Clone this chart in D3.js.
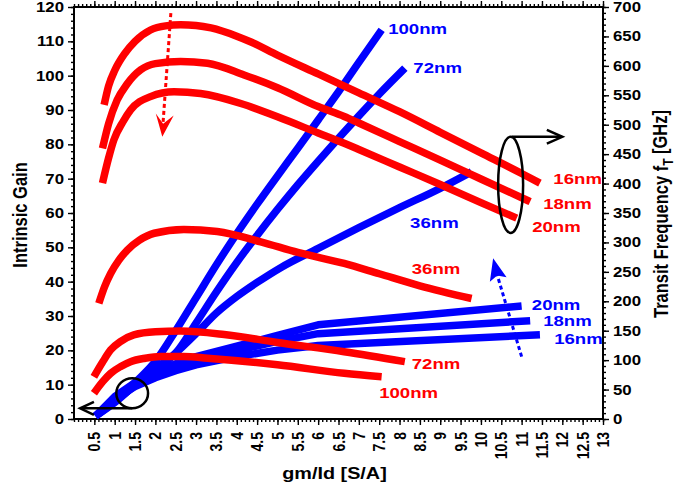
<!DOCTYPE html>
<html><head><meta charset="utf-8">
<script src="https://cdn.jsdelivr.net/npm/d3@7"></script>
<style>
html,body{margin:0;padding:0;background:#fff;}
text{font-family:"Liberation Sans",Arial,Helvetica,sans-serif;font-weight:bold;}
</style></head>
<body>
<svg id="chart" width="699" height="493"></svg>
<script>
// ---------- DATA ----------
// Intrinsic gain (left axis) vs gm/Id
const gain16 = [[0.74,91.5],[0.85,97],[1.0,101.5],[1.25,106.5],[1.5,110],[1.88,113.3],[2.25,114.5],[2.62,114.8],[3.0,114.6],[3.37,113.9],[4.0,111.5],[4.35,109.8],[5,106],[6,100.5],[7,95],[8,89.5],[9,83.5],[10,77.5],[11,71.5],[11.45,68.7]];
const gain18 = [[0.70,78.8],[0.85,86],[1.06,92.9],[1.3,97.5],[1.64,101.7],[2.0,103.5],[2.62,104.1],[3.28,103.6],[4.18,100.2],[5,96.5],[6,91],[6.64,88.1],[7,86.2],[8,80.8],[9,75.4],[10,69.9],[11.21,63.3]];
const gain20 = [[0.70,68.7],[0.85,76],[0.98,81.3],[1.2,86.5],[1.39,90],[1.88,93.9],[2.46,95.3],[3.11,94.8],[4.10,91.9],[5,88],[6,83.3],[6.64,80.3],[7,78.5],[8,73.4],[9,68.3],[10,63],[10.88,58.5]];
const gain36 = [[0.61,33.7],[0.75,38.5],[0.90,42.4],[1.1,46.2],[1.31,49.2],[1.6,52],[1.97,54.1],[2.7,55.2],[3.52,54.6],[4.59,51.6],[5.5,48.5],[6.64,45.3],[7.5,42.3],[8.5,38.8],[9.77,35.1]];
const gain72 = [[0.49,12.3],[0.7,16.5],[0.90,20.1],[1.15,22.6],[1.47,24.5],[2.0,25.4],[2.62,25.6],[3.69,24.6],[5,22.3],[6.64,19.6],[8.13,16.7]];
const gain100 = [[0.49,7.5],[0.7,10.8],[0.90,13.3],[1.15,15.3],[1.39,16.7],[1.75,17.7],[2.13,18.2],[2.7,18.2],[3.28,17.7],[5,15.8],[6.64,13.3],[7.56,12.3]];
// Transit frequency fT [GHz] (right axis) vs gm/Id
const ft100 = [[0.53,5],[1.0,30],[1.5,62],[2.0,98],[2.5,150],[3.0,206],[3.5,262],[4.0,315],[4.5,365],[5.0,413],[5.5,460],[6.0,508],[6.5,556],[7.0,606],[7.56,661]];
const ft72 = [[0.53,5],[1.0,28],[1.5,58],[2.0,86],[2.5,112],[3.0,163],[3.5,216],[4.0,266],[4.5,312],[5.0,356],[5.5,398],[6.0,438],[6.5,477],[7.0,515],[7.5,552],[8.13,596]];
const ft36 = [[0.53,5],[1.0,30],[1.5,57],[2.0,84],[2.5,112],[3.0,145],[3.5,180],[4.0,208],[4.5,232],[5.1,258],[6.0,290],[7.0,325],[8.0,359],[9.0,392],[9.77,420]];
const ft20 = [[0.53,5],[1.0,38],[1.5,62],[2.0,80],[2.5,94],[3.0,106],[4.0,124],[5.0,142],[6.0,160],[11.0,192]];
const ft18 = [[0.53,5],[1.0,36],[1.5,58],[2.0,75],[2.5,88],[3.0,99],[4.0,116],[5.0,132],[6.0,145],[11.21,167]];
const ft16 = [[0.53,5],[1.0,34],[1.5,55],[2.0,70],[2.5,82],[3.0,92],[4.0,106],[5.0,117],[6.0,125],[11.45,143]];

const gainSeries = [["16nm",gain16],["18nm",gain18],["20nm",gain20],["36nm",gain36],["72nm",gain72],["100nm",gain100]];
const ftSmooth = [["100nm",ft100],["72nm",ft72],["36nm",ft36]];
const ftKinked = [["20nm",ft20],["18nm",ft18],["16nm",ft16]];

// tick values
const xTicks = d3.range(0.5, 13.001, 0.5);
const xMinor = d3.range(0, 13.001, 0.1);
const yLeftTicks = d3.range(0, 120.1, 10);
const yLeftMinor = d3.range(0, 120.1, 2);
const yRightTicks = d3.range(0, 700.1, 50);
const yRightMinor = d3.range(0, 700.1, 10);

// label placement (data units): [text, x, value]
const gainLabels = [["16nm",11.78,70.1],["18nm",11.53,62.8],["20nm",11.26,56.2],["36nm",8.3,43.9],["72nm",8.3,16.2],["100nm",7.5,7.7]];
const ftLabels = [["100nm",7.72,664],["72nm",8.34,598],["36nm",8.26,334],["20nm",11.25,194],["18nm",11.53,168],["16nm",11.8,137]];

// ---------- DRAW ----------
const svg = d3.select("#chart");
svg.append("rect").attr("width",699).attr("height",493).attr("fill","#fff");
const L=74, R=603, T=7, B=419;
const SX = 1.2; // horizontal text stretch
const x = d3.scaleLinear().domain([0,13]).range([L,R]);
const yL = d3.scaleLinear().domain([0,120]).range([B,T]);
const yR = d3.scaleLinear().domain([0,700]).range([B,T]);

function axisG(axis, tx, ty){
  const g = svg.append("g").attr("transform",`translate(${tx},${ty})`).call(axis);
  g.select(".domain").remove();
  g.selectAll("line").attr("stroke","#000").attr("stroke-width",1.4);
  g.selectAll("text").remove();
  return g;
}
axisG(d3.axisBottom(x).tickValues(xMinor).tickSize(3), 0, B);
axisG(d3.axisBottom(x).tickValues(xTicks).tickSize(6), 0, B);
axisG(d3.axisTop(x).tickValues(xMinor).tickSize(3), 0, T);
axisG(d3.axisTop(x).tickValues(xTicks).tickSize(6), 0, T);
axisG(d3.axisLeft(yL).tickValues(yLeftMinor).tickSize(3), L, 0);
axisG(d3.axisLeft(yL).tickValues(yLeftTicks).tickSize(6), L, 0);
axisG(d3.axisRight(yR).tickValues(yRightMinor).tickSize(3), R, 0);
axisG(d3.axisRight(yR).tickValues(yRightTicks).tickSize(6), R, 0);

svg.append("rect").attr("x",L).attr("y",T).attr("width",R-L).attr("height",B-T)
  .attr("fill","none").attr("stroke","#000").attr("stroke-width",2);

// tick labels
const fmt = d => (d%1===0 ? String(d) : d.toFixed(1));
svg.append("g").selectAll("text").data(yLeftTicks).join("text")
  .attr("transform", d=>`translate(${L-10},${yL(d)}) scale(${SX},1)`)
  .attr("text-anchor","end").attr("dy","0.36em").attr("font-size",14).text(d=>d);
svg.append("g").selectAll("text").data(yRightTicks).join("text")
  .attr("transform", d=>`translate(${R+10},${yR(d)}) scale(${SX},1)`)
  .attr("text-anchor","start").attr("dy","0.36em").attr("font-size",14).text(d=>d);
svg.append("g").selectAll("text").data(xTicks).join("text")
  .attr("transform", d=>`translate(${x(d)},${B+13}) scale(${SX},1) rotate(-90)`)
  .attr("text-anchor","end").attr("dy","0.36em").attr("font-size",14).text(fmt);

// axis titles
svg.append("text").attr("transform",`translate(${(L+R)/2-4},473) scale(${SX},1)`)
  .attr("text-anchor","middle").attr("dy","0.36em").attr("font-size",16.5).text("gm/Id [S/A]");
svg.append("text").attr("transform",`translate(20,${(T+B)/2+2}) scale(${SX},1) rotate(-90)`)
  .attr("text-anchor","middle").attr("dy","0.36em").attr("font-size",16.5).text("Intrinsic Gain");
const rt = svg.append("text").attr("transform",`translate(661,${(T+B)/2+1}) scale(${SX},1) rotate(-90)`)
  .attr("text-anchor","middle").attr("dy","0.36em").attr("font-size",16.5);
rt.append("tspan").text("Transit Frequency f");
rt.append("tspan").attr("font-size",12).attr("dy","0.35em").text("T");
rt.append("tspan").attr("dy","-0.3em").text(" [GHz]");

// lines
const lineFtSmooth = d3.line().x(d=>x(d[0])).y(d=>yR(d[1])).curve(d3.curveMonotoneX);
const lineFtKink = d3.line().x(d=>x(d[0])).y(d=>yR(d[1])).curve(d3.curveLinear);
const lineGain = d3.line().x(d=>x(d[0])).y(d=>yL(d[1])).curve(d3.curveMonotoneX);
const blueG = svg.append("g").attr("fill","none").attr("stroke","#0000ff")
  .attr("stroke-width",7.5).attr("stroke-linejoin","round").attr("stroke-linecap","butt");
blueG.selectAll("path.s").data(ftSmooth).join("path").attr("class","s").attr("d", d=>lineFtSmooth(d[1]));
blueG.selectAll("path.k").data(ftKinked).join("path").attr("class","k").attr("d", d=>lineFtKink(d[1]));
svg.append("g").selectAll("path").data(gainSeries).join("path")
  .attr("d", d=>lineGain(d[1])).attr("fill","none").attr("stroke","#ff0000")
  .attr("stroke-width",7.5).attr("stroke-linejoin","round").attr("stroke-linecap","butt");

// series labels
svg.append("g").selectAll("text").data(ftLabels).join("text")
  .attr("transform", d=>`translate(${x(d[1])},${yR(d[2])}) scale(${SX},1)`)
  .attr("dy","0.36em").attr("font-size",15.5).attr("fill","#0000ff").text(d=>d[0]);
svg.append("g").selectAll("text").data(gainLabels).join("text")
  .attr("transform", d=>`translate(${x(d[1])},${yL(d[2])}) scale(${SX},1)`)
  .attr("dy","0.36em").attr("font-size",15.5).attr("fill","#ff0000").text(d=>d[0]);

// ---------- ANNOTATIONS (data units) ----------
const redArrowShaft = [[2.38,118.2],[2.19,86.5]];
const redArrowHead = [[2.01,89.0],[2.19,86.0],[2.45,88.4],[2.17,82.2]];
const blueArrowShaft = [[11.0,106],[10.39,247]];
const blueArrowHead = [[10.22,233],[10.40,244],[10.63,240.7],[10.30,273]];
const lineG = d3.line().x(d=>x(d[0])).y(d=>yL(d[1]));
const lineR = d3.line().x(d=>x(d[0])).y(d=>yR(d[1]));
svg.append("path").attr("d",lineG(redArrowShaft)).attr("stroke","#ff0000").attr("stroke-width",3)
  .attr("stroke-dasharray","4,3").attr("fill","none");
svg.append("path").attr("d",lineG(redArrowHead)+"Z").attr("fill","#ff0000");
svg.append("path").attr("d",lineR(blueArrowShaft)).attr("stroke","#0000ff").attr("stroke-width",3)
  .attr("stroke-dasharray","4,3").attr("fill","none");
svg.append("path").attr("d",lineR(blueArrowHead)+"Z").attr("fill","#0000ff");

// ellipse marking fT curves -> right axis
const ellR = {cx:10.73, cy:68.2, rx:0.307, ry:14.0};
svg.append("ellipse").attr("cx",x(ellR.cx)).attr("cy",yL(ellR.cy))
  .attr("rx",x(ellR.rx)-x(0)).attr("ry",yL(0)-yL(ellR.ry))
  .attr("fill","none").attr("stroke","#000").attr("stroke-width",2.5);
const rightArrow = [[10.76,82.2],[11.98,82.2]];
const rightHead = [[11.62,84.2],[12.0,82.2],[11.62,80.2]];
svg.append("path").attr("d",lineG(rightArrow)).attr("stroke","#000").attr("stroke-width",2.5).attr("fill","none");
svg.append("path").attr("d",lineG(rightHead)).attr("stroke","#000").attr("stroke-width",2.5).attr("fill","none");

// circle marking gain curves -> left axis
const circL = {cx:1.43, cy:7.5, rx:0.39, ry:4.4};
svg.append("ellipse").attr("cx",x(circL.cx)).attr("cy",yL(circL.cy))
  .attr("rx",x(circL.rx)-x(0)).attr("ry",yL(0)-yL(circL.ry))
  .attr("fill","none").attr("stroke","#000").attr("stroke-width",2.5);
const leftArrow = [[1.43,3.1],[0.17,3.1]];
const leftHead = [[0.49,5.0],[0.15,3.1],[0.49,1.2]];
svg.append("path").attr("d",lineG(leftArrow)).attr("stroke","#000").attr("stroke-width",2.5).attr("fill","none");
svg.append("path").attr("d",lineG(leftHead)).attr("stroke","#000").attr("stroke-width",2.5).attr("fill","none");
</script>
</body></html>
